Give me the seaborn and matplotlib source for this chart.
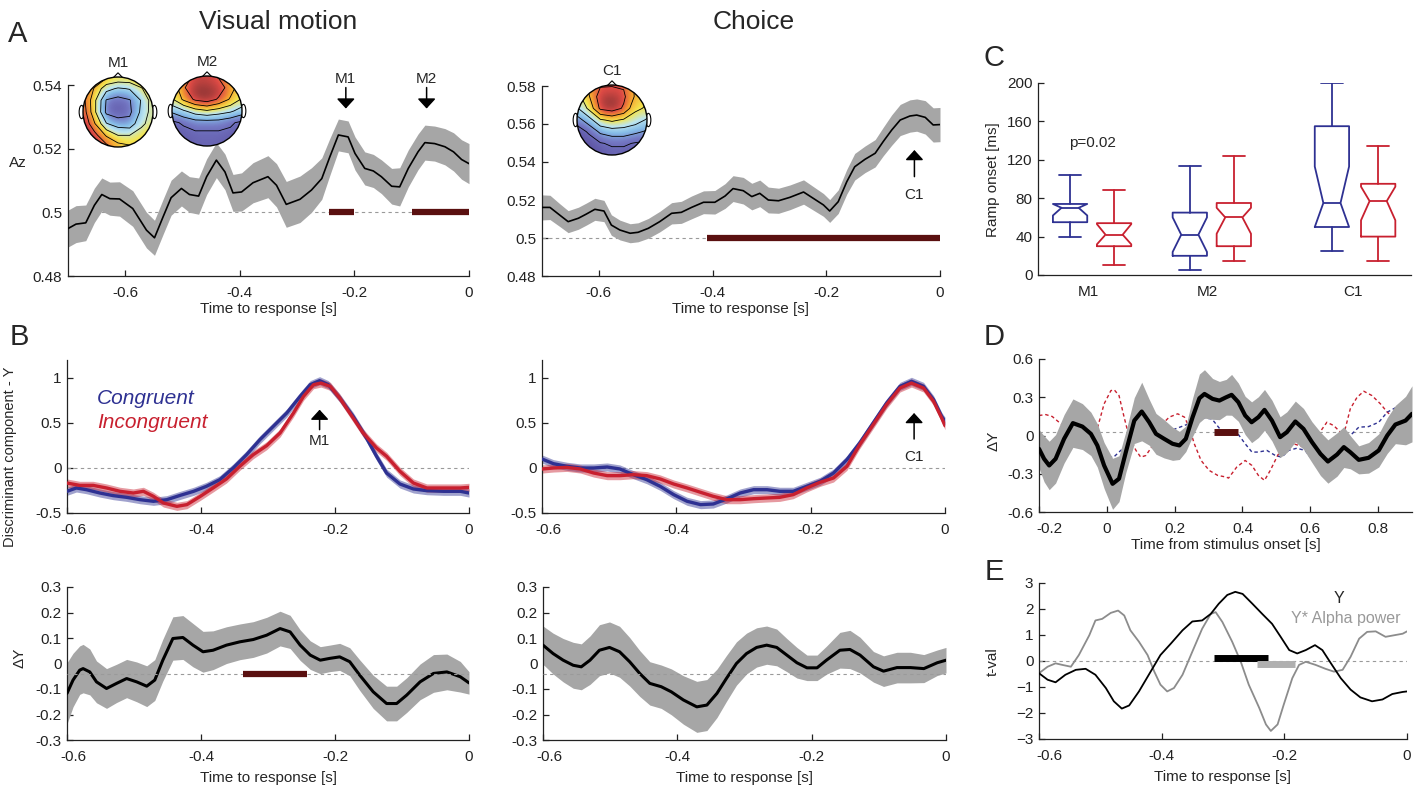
import numpy as np
import matplotlib
matplotlib.use("Agg")
import matplotlib.pyplot as plt
import seaborn as sns
from matplotlib.patches import Circle, Polygon, Ellipse
from matplotlib.colors import LinearSegmentedColormap
from matplotlib.ticker import FuncFormatter
from matplotlib.transforms import ScaledTranslation

# A - Az time courses (time to response [s])
mot_t = [-0.7, -0.686, -0.669, -0.654, -0.641, -0.627, -0.61, -0.587, -0.563, -0.549, -0.534, -0.52, -0.502,
         -0.488, -0.472, -0.458, -0.441, -0.426, -0.412, -0.397, -0.377, -0.351, -0.336, -0.319, -0.295, -0.275,
         -0.257, -0.243, -0.228, -0.211, -0.199, -0.182, -0.167, -0.153, -0.135, -0.121, -0.106, -0.089, -0.077,
         -0.06, -0.042, -0.027, -0.013, 0]
mot_az = [0.4949, 0.4963, 0.4967, 0.5022, 0.5056, 0.5043, 0.5042, 0.5012, 0.4944, 0.492, 0.4986, 0.5046, 0.5075,
          0.5056, 0.5051, 0.5112, 0.5164, 0.5127, 0.5061, 0.5064, 0.5093, 0.5112, 0.5085, 0.5025, 0.5041, 0.507,
          0.5106, 0.5174, 0.5243, 0.5237, 0.5185, 0.5138, 0.513, 0.5112, 0.5082, 0.508, 0.5138, 0.519, 0.5219,
          0.5216, 0.5206, 0.519, 0.5166, 0.5153]
mot_hw = [0.0058, 0.0058, 0.0056, 0.0054, 0.0052, 0.0052, 0.0054, 0.0056, 0.0056, 0.0055, 0.0055, 0.0055, 0.0055,
          0.0056, 0.0057, 0.0056, 0.0055, 0.0056, 0.0058, 0.006, 0.0063, 0.0066, 0.0068, 0.0072, 0.0073, 0.007,
          0.0065, 0.0058, 0.005, 0.005, 0.0052, 0.0052, 0.0052, 0.0053, 0.0056, 0.006, 0.0058, 0.0056, 0.0055,
          0.0055, 0.0057, 0.006, 0.0062, 0.0063]
mot_sig = [(-0.245, -0.2), (-0.1, 0.0)]
mot_peaks = [("M1", -0.215), ("M2", -0.074)]

cho_t = [-0.7, -0.686, -0.669, -0.654, -0.636, -0.622, -0.607, -0.591, -0.578, -0.563, -0.545, -0.531, -0.513,
         -0.493, -0.472, -0.455, -0.437, -0.416, -0.396, -0.378, -0.364, -0.346, -0.331, -0.317, -0.302, -0.284,
         -0.264, -0.24, -0.223, -0.205, -0.194, -0.179, -0.164, -0.15, -0.132, -0.114, -0.1, -0.085, -0.07,
         -0.053, -0.041, -0.026, -0.012, 0]
cho_az = [0.5161, 0.5161, 0.5121, 0.5086, 0.5104, 0.5126, 0.5151, 0.5142, 0.5068, 0.5042, 0.5025, 0.503, 0.5051,
          0.5086, 0.513, 0.5135, 0.5161, 0.5188, 0.5188, 0.5221, 0.526, 0.5249, 0.5218, 0.5235, 0.52, 0.5196,
          0.5214, 0.5242, 0.5209, 0.5174, 0.5142, 0.5191, 0.5296, 0.5375, 0.5414, 0.5446, 0.5507, 0.5568, 0.5621,
          0.5642, 0.5647, 0.5635, 0.5595, 0.5597]
cho_hw = [0.0066, 0.0064, 0.006, 0.0058, 0.0058, 0.0058, 0.0058, 0.0056, 0.0054, 0.0052, 0.005, 0.005, 0.0052,
          0.0054, 0.0056, 0.0058, 0.006, 0.006, 0.0062, 0.0065, 0.0068, 0.007, 0.007, 0.007, 0.0068, 0.0066,
          0.0065, 0.0064, 0.0062, 0.006, 0.006, 0.0062, 0.0065, 0.007, 0.007, 0.0072, 0.0075, 0.008, 0.0082,
          0.0085, 0.0085, 0.0088, 0.009, 0.009]
cho_sig = [(-0.41, 0.0)]
cho_peak = ("C1", -0.045)

# scalp maps, rows front -> back, 0 = low (blue), 1 = high (red)
topo_m1 = [[.80, .72, .60, .55, .55, .62, .72],
           [.78, .55, .32, .25, .28, .40, .60],
           [.78, .45, .12, .08, .12, .28, .50],
           [.82, .45, .10, .06, .10, .30, .50],
           [.88, .58, .28, .20, .18, .38, .50],
           [.95, .78, .55, .42, .42, .50, .60],
           [.97, .90, .78, .65, .60, .60, .65]]
topo_m2 = [[.60, .80, .90, .90, .85, .75, .60],
           [.60, .85, 1.0, 1.0, .95, .80, .60],
           [.55, .75, .90, .95, .85, .70, .55],
           [.30, .40, .50, .55, .50, .45, .35],
           [.10, .15, .20, .20, .20, .15, .10],
           [.05, .08, .10, .10, .10, .10, .05],
           [.05, .05, .08, .08, .08, .05, .05]]
topo_c1 = [[.60, .75, .85, .85, .85, .70, .60],
           [.50, .70, .95, 1.0, .90, .70, .60],
           [.40, .60, .90, .95, .85, .60, .55],
           [.20, .35, .55, .60, .55, .50, .40],
           [.05, .15, .30, .35, .35, .30, .25],
           [.02, .05, .12, .15, .15, .12, .10],
           [.00, .02, .05, .08, .08, .05, .05]]

# B - discriminant component Y
bm_t_con = [-0.6, -0.586, -0.571, -0.551, -0.531, -0.511, -0.491, -0.471, -0.451, -0.431, -0.411, -0.392, -0.372,
            -0.352, -0.332, -0.312, -0.292, -0.272, -0.252, -0.237, -0.223, -0.21, -0.193, -0.173, -0.153, -0.138,
            -0.123, -0.103, -0.083, -0.063, -0.038, -0.013, 0]
bm_y_con = [-0.259, -0.222, -0.241, -0.278, -0.307, -0.326, -0.352, -0.37, -0.352, -0.304, -0.259, -0.204, -0.13,
            0.0, 0.148, 0.315, 0.463, 0.611, 0.796, 0.926, 0.97, 0.926, 0.778, 0.574, 0.333, 0.13, -0.056, -0.178,
            -0.233, -0.252, -0.259, -0.259, -0.278]
bm_t_inc = [-0.6, -0.581, -0.561, -0.541, -0.521, -0.501, -0.486, -0.471, -0.456, -0.436, -0.421, -0.401, -0.382,
            -0.362, -0.342, -0.322, -0.302, -0.282, -0.262, -0.247, -0.232, -0.221, -0.207, -0.193, -0.173, -0.158,
            -0.138, -0.123, -0.103, -0.083, -0.063, -0.038, -0.013, 0]
bm_y_inc = [-0.167, -0.193, -0.193, -0.222, -0.259, -0.278, -0.259, -0.315, -0.389, -0.426, -0.407, -0.315, -0.222,
            -0.122, 0.019, 0.148, 0.248, 0.389, 0.611, 0.796, 0.926, 0.944, 0.907, 0.778, 0.556, 0.389, 0.222, 0.13,
            -0.037, -0.167, -0.222, -0.222, -0.222, -0.215]
bc_t = [-0.6, -0.583, -0.563, -0.543, -0.523, -0.503, -0.484, -0.464, -0.444, -0.424, -0.404, -0.384, -0.364,
        -0.345, -0.325, -0.305, -0.285, -0.265, -0.246, -0.226, -0.206, -0.186, -0.166, -0.146, -0.127, -0.107,
        -0.087, -0.067, -0.05, -0.032, -0.017, -0.005, 0]
bc_y_con = [0.1, 0.048, 0.019, 0.0, 0.0, 0.011, -0.011, -0.074, -0.13, -0.204, -0.296, -0.37, -0.407, -0.4, -0.344,
            -0.278, -0.241, -0.241, -0.259, -0.259, -0.204, -0.148, -0.056, 0.093, 0.278, 0.5, 0.722, 0.907, 0.963,
            0.907, 0.759, 0.574, 0.519]
bc_y_inc = [-0.011, 0.0, 0.007, -0.011, -0.056, -0.085, -0.085, -0.074, -0.085, -0.122, -0.178, -0.222, -0.27,
            -0.315, -0.352, -0.352, -0.341, -0.333, -0.326, -0.296, -0.222, -0.159, -0.111, 0.019, 0.259, 0.481,
            0.704, 0.889, 0.944, 0.889, 0.741, 0.556, 0.47]
b_band = 0.045

# B - difference Delta Y
dm_t = [-0.6, -0.591, -0.581, -0.576, -0.566, -0.556, -0.541, -0.526, -0.511, -0.496, -0.481, -0.469, -0.457,
        -0.442, -0.427, -0.412, -0.397, -0.382, -0.362, -0.342, -0.322, -0.302, -0.282, -0.267, -0.252, -0.237,
        -0.222, -0.208, -0.193, -0.178, -0.163, -0.143, -0.123, -0.108, -0.093, -0.073, -0.053, -0.033, -0.013, 0]
dm_y = [-0.117, -0.065, -0.026, -0.02, -0.033, -0.072, -0.098, -0.078, -0.059, -0.072, -0.089, -0.065, 0.013, 0.098,
        0.102, 0.072, 0.046, 0.052, 0.072, 0.085, 0.094, 0.111, 0.137, 0.124, 0.072, 0.033, 0.013, 0.02, 0.026,
        0.007, -0.046, -0.111, -0.157, -0.157, -0.124, -0.072, -0.039, -0.033, -0.052, -0.076]
dm_hw = [0.12, 0.105, 0.095, 0.095, 0.09, 0.082, 0.078, 0.075, 0.075, 0.078, 0.08, 0.08, 0.082, 0.085, 0.086, 0.085,
         0.08, 0.076, 0.072, 0.07, 0.07, 0.07, 0.068, 0.065, 0.06, 0.056, 0.053, 0.052, 0.053, 0.055, 0.06, 0.065,
         0.068, 0.068, 0.068, 0.07, 0.074, 0.07, 0.06, 0.044]
dm_sig = [(-0.337, -0.242)]
dc_t = [-0.6, -0.585, -0.57, -0.555, -0.543, -0.53, -0.516, -0.501, -0.486, -0.471, -0.456, -0.441, -0.424, -0.409,
        -0.391, -0.371, -0.356, -0.341, -0.327, -0.312, -0.297, -0.282, -0.267, -0.252, -0.237, -0.222, -0.207,
        -0.192, -0.178, -0.158, -0.143, -0.128, -0.108, -0.093, -0.073, -0.053, -0.033, -0.013, 0]
dc_y = [0.072, 0.039, 0.013, -0.007, -0.013, 0.013, 0.052, 0.063, 0.046, 0.007, -0.039, -0.078, -0.091, -0.111,
        -0.143, -0.17, -0.163, -0.117, -0.059, 0.0, 0.039, 0.063, 0.072, 0.063, 0.033, 0.003, -0.017, -0.017, 0.013,
        0.052, 0.055, 0.033, -0.013, -0.03, -0.016, -0.016, -0.02, 0.003, 0.013]
dc_hw = [0.075, 0.08, 0.085, 0.09, 0.09, 0.095, 0.1, 0.1, 0.1, 0.095, 0.09, 0.085, 0.085, 0.09, 0.095, 0.1, 0.1,
         0.095, 0.09, 0.085, 0.08, 0.077, 0.075, 0.072, 0.065, 0.06, 0.05, 0.05, 0.055, 0.07, 0.075, 0.07, 0.06,
         0.06, 0.06, 0.06, 0.055, 0.05, 0.05]
d_ref = -0.04

# C - ramp onset boxplots (ms)
box_pos = [0.86, 2.04, 4.07, 5.25, 7.88, 9.12]
box_whislo = [40, 10, 5, 15, 25, 15]
box_q1 = [55, 30, 20, 30, 50, 40]
box_med = [70, 42, 42, 60, 75, 77]
box_q3 = [74, 54, 65, 75, 155, 95]
box_whishi = [104, 89, 114, 124, 200, 134]
box_cilo = [62, 32, 24, 43, 50, 57]
box_cihi = [74, 53, 60, 70, 113, 92]
box_cond = ["con", "inc", "con", "inc", "con", "inc"]
cat_labels = ["M1", "M2", "C1"]
cat_pos = [1.35, 4.55, 8.45]

# D - Delta Y from stimulus onset
st_t = [-0.2, -0.185, -0.17, -0.151, -0.126, -0.1, -0.072, -0.047, -0.028, -0.008, 0.017, 0.036, 0.056, 0.081,
        0.103, 0.125, 0.145, 0.169, 0.194, 0.214, 0.233, 0.253, 0.273, 0.288, 0.312, 0.332, 0.352, 0.368, 0.388,
        0.408, 0.427, 0.447, 0.465, 0.487, 0.511, 0.531, 0.556, 0.58, 0.605, 0.63, 0.652, 0.679, 0.699, 0.718,
        0.743, 0.772, 0.802, 0.827, 0.851, 0.881, 0.9]
st_dy = [-0.104, -0.183, -0.235, -0.183, -0.026, 0.097, 0.07, 0.013, -0.078, -0.235, -0.379, -0.339, -0.131, 0.117,
         0.188, 0.104, 0.013, -0.026, -0.065, -0.078, -0.026, 0.144, 0.292, 0.326, 0.287, 0.274, 0.3, 0.319, 0.261,
         0.157, 0.104, 0.144, 0.201, 0.117, -0.013, 0.026, 0.11, 0.052, -0.052, -0.144, -0.204, -0.149, -0.091,
         -0.131, -0.191, -0.175, -0.117, 0.0, 0.086, 0.117, 0.17]
st_hw = [0.15, 0.18, 0.19, 0.19, 0.19, 0.19, 0.18, 0.17, 0.17, 0.18, 0.2, 0.18, 0.16, 0.18, 0.23, 0.18, 0.16, 0.15,
         0.13, 0.11, 0.1, 0.15, 0.19, 0.19, 0.16, 0.15, 0.14, 0.16, 0.15, 0.15, 0.16, 0.16, 0.16, 0.16, 0.16, 0.16,
         0.16, 0.16, 0.16, 0.17, 0.17, 0.17, 0.16, 0.13, 0.11, 0.12, 0.13, 0.14, 0.15, 0.19, 0.22]
st_inc_t = [-0.2, -0.18, -0.161, -0.141, -0.12, -0.09, -0.06, -0.045, -0.031, -0.008, 0.012, 0.022, 0.036, 0.051,
            0.066, 0.086, 0.1, 0.115, 0.135, 0.15, 0.169, 0.184, 0.209, 0.229, 0.243, 0.258, 0.278, 0.302, 0.327,
            0.352, 0.359, 0.383, 0.408, 0.428, 0.447, 0.465, 0.482, 0.505, 0.536, 0.566, 0.595, 0.625, 0.649, 0.669,
            0.689, 0.703, 0.718, 0.738, 0.758, 0.782, 0.807, 0.827, 0.85, 0.87, 0.891, 0.905]
st_inc = [0.157, 0.164, 0.149, 0.104, 0.06, 0.02, 0.0, 0.0, 0.026, 0.248, 0.352, 0.358, 0.313, 0.144, -0.013,
          -0.117, -0.17, -0.157, -0.08, 0.02, 0.104, 0.144, 0.17, 0.144, 0.065, -0.065, -0.196, -0.274, -0.313,
          -0.326, -0.334, -0.248, -0.196, -0.235, -0.313, -0.352, -0.274, -0.15, -0.052, -0.078, -0.104, 0.013,
          0.104, 0.078, 0.026, 0.052, 0.209, 0.3, 0.347, 0.313, 0.248, 0.183, 0.13, 0.095, 0.078, 0.06]
st_con_t = [-0.2, -0.15, -0.1, -0.06, -0.04, -0.02, 0.0, 0.02, 0.04, 0.07, 0.1, 0.15, 0.2, 0.25, 0.28, 0.31, 0.34,
            0.36, 0.383, 0.408, 0.428, 0.447, 0.472, 0.497, 0.516, 0.536, 0.56, 0.585, 0.6, 0.63, 0.66, 0.69, 0.713,
            0.743, 0.772, 0.802, 0.827, 0.851, 0.876, 0.905]
st_con = [-0.05, -0.06, -0.03, -0.08, -0.1, -0.12, -0.17, -0.17, -0.12, -0.05, 0.02, 0.0, 0.05, 0.1, 0.14, 0.13,
          0.03, 0.04, 0.026, -0.065, -0.13, -0.13, -0.117, -0.157, -0.17, -0.117, -0.1, -0.117, -0.17, -0.15, -0.1,
          -0.05, -0.013, 0.065, 0.07, 0.104, 0.183, 0.217, 0.209, 0.196]
st_sig = [(0.316, 0.386)]
st_ref = 0.026

# E - t-values
e_t_y = [-0.6, -0.586, -0.573, -0.557, -0.54, -0.524, -0.508, -0.491, -0.478, -0.465, -0.453, -0.437, -0.418, -0.402,
         -0.385, -0.366, -0.35, -0.334, -0.32, -0.307, -0.293, -0.28, -0.268, -0.252, -0.236, -0.22, -0.206, -0.192,
         -0.179, -0.165, -0.15, -0.138, -0.124, -0.108, -0.092, -0.076, -0.057, -0.04, -0.024, -0.007, 0]
e_y = [-0.47, -0.72, -0.82, -0.53, -0.34, -0.3, -0.53, -1.04, -1.55, -1.83, -1.71, -1.17, -0.41, 0.23, 0.67, 1.18,
       1.52, 1.56, 1.81, 2.2, 2.54, 2.66, 2.58, 2.2, 1.81, 1.43, 0.93, 0.42, 0.29, 0.42, 0.61, 0.42, -0.09, -0.66,
       -1.1, -1.4, -1.55, -1.48, -1.27, -1.19, -1.17]
e_t_a = [-0.6, -0.586, -0.573, -0.562, -0.548, -0.535, -0.518, -0.508, -0.497, -0.483, -0.471, -0.461, -0.451,
         -0.437, -0.423, -0.412, -0.402, -0.391, -0.38, -0.366, -0.35, -0.334, -0.32, -0.312, -0.301, -0.285, -0.271,
         -0.258, -0.241, -0.23, -0.222, -0.211, -0.201, -0.187, -0.176, -0.165, -0.149, -0.133, -0.119, -0.105,
         -0.092, -0.078, -0.065, -0.051, -0.035, -0.021, -0.007, 0]
e_alpha = [-0.47, -0.22, -0.09, -0.15, -0.22, 0.23, 0.99, 1.56, 1.62, 1.85, 1.94, 1.75, 1.18, 0.74, 0.23, -0.41,
           -0.91, -1.17, -1.04, -0.53, 0.36, 1.24, 1.81, 1.88, 1.5, 0.74, -0.03, -0.91, -1.8, -2.44, -2.69, -2.44,
           -1.68, -0.66, -0.15, -0.03, -0.15, -0.3, -0.41, -0.34, 0.16, 0.86, 1.12, 1.14, 0.93, 0.99, 1.05, 1.14]
e_sig_y = (-0.315, -0.227, 0.1)
e_sig_a = (-0.244, -0.183, -0.13)

C_CON = "#2e3192"
C_INC = "#c8202f"
C_SIG = "#5a1010"
C_BAND = "#a6a6a6"
C_REF = "#9a9a9a"
FS = 11

sns.set_style("ticks")
plt.rcParams["font.family"] = ["Liberation Sans", "DejaVu Sans"]
plt.rcParams["axes.unicode_minus"] = False

W, H = 1422, 787
fig = plt.figure(figsize=(W / 100, H / 100), dpi=100)


def px_axes(l, t, r, b):
    return fig.add_axes([l / W, 1 - b / H, (r - l) / W, (b - t) / H])


def g_fmt(v, p):
    return f"{round(v, 6) + 0.0:g}"


def matlab_axes(ax):
    sns.despine(ax=ax)
    for s in ["left", "bottom"]:
        ax.spines[s].set_linewidth(0.9)
        ax.spines[s].set_color("#222222")
    ax.tick_params(direction="in", length=4, width=0.9, labelsize=FS, colors="#222222", pad=4)
    ax.tick_params(axis="x", pad=7)
    ax.xaxis.set_major_formatter(FuncFormatter(g_fmt))
    ax.yaxis.set_major_formatter(FuncFormatter(g_fmt))


def arrow(ax, x, y_tail, y_tip):
    ax.annotate("", xy=(x, y_tip), xytext=(x, y_tail),
                arrowprops=dict(arrowstyle="-|>,head_length=0.6,head_width=0.55", color="k", lw=1.1,
                                shrinkA=0, shrinkB=0, mutation_scale=10), annotation_clip=False)


def gray_trace(ax, t, y, hw, lw):
    t = np.array(t); y = np.array(y); hw = np.array(hw)
    ax.fill_between(t, y - hw, y + hw, color=C_BAND, lw=0, zorder=2)
    sns.lineplot(x=t, y=y, ax=ax, color="k", linewidth=lw, errorbar=None, sort=False, zorder=3)


# ---------- A ----------
axA1 = px_axes(68, 85, 469, 276)
axA1.axhline(0.5, color=C_REF, lw=0.8, ls=(0, (3, 3)), zorder=1)
gray_trace(axA1, mot_t, mot_az, mot_hw, 1.2)
for x0, x1 in mot_sig:
    axA1.hlines(0.5, x0, x1, color=C_SIG, lw=4.5, zorder=4)
for name, x in mot_peaks:
    arrow(axA1, x, 0.5392, 0.5326)
    axA1.text(x, 0.5419, name, ha="center", va="center", fontsize=FS)
axA1.set_xlim(-0.7, 0)
axA1.set_ylim(0.48, 0.54)
axA1.set_xticks([-0.6, -0.4, -0.2, 0])
axA1.set_yticks([0.48, 0.5, 0.52, 0.54])
matlab_axes(axA1)
axA1.set_xlabel("Time to response [s]", fontsize=FS, labelpad=2)
axA1.set_ylabel("")

axA2 = px_axes(542, 86, 940, 276)
axA2.axhline(0.5, color=C_REF, lw=0.8, ls=(0, (3, 3)), zorder=1)
gray_trace(axA2, cho_t, cho_az, cho_hw, 1.2)
for x0, x1 in cho_sig:
    axA2.hlines(0.5, x0, x1, color=C_SIG, lw=4.5, zorder=4)
arrow(axA2, cho_peak[1], 0.5323, 0.5463)
axA2.text(cho_peak[1], 0.5226, cho_peak[0], ha="center", va="center", fontsize=FS)
axA2.set_xlim(-0.7, 0)
axA2.set_ylim(0.48, 0.58)
axA2.set_xticks([-0.6, -0.4, -0.2, 0])
axA2.set_yticks([0.48, 0.5, 0.52, 0.54, 0.56, 0.58])
matlab_axes(axA2)
axA2.set_xlabel("Time to response [s]", fontsize=FS, labelpad=2)
axA2.set_ylabel("")

# ---------- B (top) ----------
def cond_panel(ax, t_con, y_con, t_inc, y_inc):
    ax.axhline(0, color=C_REF, lw=0.8, ls=(0, (3, 3)), zorder=1)
    for t, y, c in [(t_con, y_con, C_CON), (t_inc, y_inc, C_INC)]:
        t = np.array(t); y = np.array(y)
        ax.fill_between(t, y - b_band, y + b_band, color=c, alpha=0.45, lw=0, zorder=2)
    for t, y, c in [(t_con, y_con, C_CON), (t_inc, y_inc, C_INC)]:
        sns.lineplot(x=t, y=y, ax=ax, color=c, linewidth=2.4, errorbar=None, sort=False, zorder=3)
    ax.set_xlim(-0.6, 0)
    ax.set_ylim(-0.5, 1.2)
    ax.set_xticks([-0.6, -0.4, -0.2, 0])
    ax.set_yticks([-0.5, 0, 0.5, 1])
    matlab_axes(ax)
    ax.set_xlabel("")
    ax.set_ylabel("")


axB1 = px_axes(67, 360, 469, 513)
cond_panel(axB1, bm_t_con, bm_y_con, bm_t_inc, bm_y_inc)
arrow(axB1, -0.223, 0.426, 0.648)
axB1.text(-0.223, 0.296, "M1", ha="center", va="center", fontsize=FS)
axB1.text(-0.555, 0.77, "Congruent", color=C_CON, fontsize=15, style="italic", va="center")
axB1.text(-0.555, 0.5, "Incongruent", color=C_INC, fontsize=15, style="italic", va="center")

axB2 = px_axes(542, 360, 945, 513)
cond_panel(axB2, bc_t, bc_y_con, bc_t, bc_y_inc)
arrow(axB2, -0.046, 0.322, 0.611)
axB2.text(-0.046, 0.122, "C1", ha="center", va="center", fontsize=FS)

# ---------- B (bottom) ----------
def diff_panel(ax, t, y, hw, sig):
    gray_trace(ax, t, y, hw, 2.2)
    ax.axhline(d_ref, color=C_REF, lw=0.8, ls=(0, (3, 3)), zorder=3.5)
    for x0, x1 in sig:
        ax.hlines(d_ref, x0, x1, color=C_SIG, lw=4.5, zorder=4)
    ax.set_xlim(-0.6, 0)
    ax.set_ylim(-0.3, 0.3)
    ax.set_xticks([-0.6, -0.4, -0.2, 0])
    ax.set_yticks([-0.3, -0.2, -0.1, 0, 0.1, 0.2, 0.3])
    matlab_axes(ax)
    ax.set_xlabel("Time to response [s]", fontsize=FS, labelpad=5)
    ax.set_ylabel("")


axB3 = px_axes(67, 587, 469, 740)
diff_panel(axB3, dm_t, dm_y, dm_hw, dm_sig)
axB4 = px_axes(543, 587, 946, 740)
diff_panel(axB4, dc_t, dc_y, dc_hw, [])

# ---------- C ----------
axC = px_axes(1038, 83, 1411, 275)
for i in range(len(box_pos)):
    c = C_CON if box_cond[i] == "con" else C_INC
    st = dict(med=box_med[i], q1=box_q1[i], q3=box_q3[i], whislo=box_whislo[i], whishi=box_whishi[i],
              cilo=box_cilo[i], cihi=box_cihi[i], fliers=[])
    props = dict(color=c, linewidth=1.3)
    axC.bxp([st], positions=[box_pos[i]], widths=0.92, shownotches=True, showfliers=False,
            boxprops=props, whiskerprops=props, capprops=props, medianprops=props,
            manage_ticks=False, capwidths=0.6)
axC.text(1.45, 137, "p=0.02", ha="center", va="center", fontsize=FS)
axC.set_xlim(0, 10)
axC.set_ylim(0, 200)
axC.set_yticks([0, 40, 80, 120, 160, 200])
matlab_axes(axC)
axC.set_xticks(cat_pos)
axC.set_xticklabels(cat_labels)
axC.tick_params(axis="x", length=0, pad=7)

# ---------- D ----------
axD = px_axes(1039, 359, 1412, 512)
axD.axhline(st_ref, color=C_REF, lw=0.8, ls=(0, (3, 3)), zorder=1)
sns.lineplot(x=st_inc_t, y=st_inc, ax=axD, color=C_INC, linewidth=1.0, linestyle=(0, (2.5, 2)),
             errorbar=None, sort=False, zorder=1.5)
sns.lineplot(x=st_con_t, y=st_con, ax=axD, color=C_CON, linewidth=1.0, linestyle=(0, (2.5, 2)),
             errorbar=None, sort=False, zorder=1.5)
gray_trace(axD, st_t, st_dy, st_hw, 3.0)
for x0, x1 in st_sig:
    axD.hlines(st_ref, x0, x1, color=C_SIG, lw=5, zorder=4)
axD.set_xlim(-0.2, 0.9)
axD.set_ylim(-0.6, 0.6)
axD.set_xticks([-0.2, 0, 0.2, 0.4, 0.6, 0.8])
axD.set_yticks([-0.6, -0.3, 0, 0.3, 0.6])
matlab_axes(axD)
axD.set_xlabel("Time from stimulus onset [s]", fontsize=FS, labelpad=2)
axD.set_ylabel("")

# ---------- E ----------
axE = px_axes(1039, 583, 1407, 739)
axE.axhline(0, color=C_REF, lw=0.8, ls=(0, (3, 3)), zorder=1)
sns.lineplot(x=e_t_a, y=e_alpha, ax=axE, color="#8c8c8c", linewidth=1.3, errorbar=None, sort=False, zorder=2)
sns.lineplot(x=e_t_y, y=e_y, ax=axE, color="k", linewidth=1.3, errorbar=None, sort=False, zorder=3)
axE.hlines(e_sig_y[2], e_sig_y[0], e_sig_y[1], color="k", lw=5, zorder=4)
axE.hlines(e_sig_a[2], e_sig_a[0], e_sig_a[1], color="#b0b0b0", lw=5, zorder=4)
axE.text(-0.111, 2.42, "Y", ha="center", va="center", fontsize=FS + 0.5)
axE.text(-0.1, 1.62, "Y* Alpha power", ha="center", va="center", fontsize=FS + 0.5, color="#999999")
axE.set_xlim(-0.6, 0)
axE.set_ylim(-3, 3)
axE.set_xticks([-0.6, -0.4, -0.2, 0])
axE.set_yticks([-3, -2, -1, 0, 1, 2, 3])
matlab_axes(axE)
axE.yaxis.set_major_formatter(FuncFormatter(lambda v, p: f"{round(v) + 0:g}".replace("-", "\u2212")))
axE.set_xlabel("Time to response [s]", fontsize=FS, labelpad=5)
axE.set_ylabel("")

# ---------- scalp maps ----------
topo_cmap = LinearSegmentedColormap.from_list(
    "topo", ["#5b4fa0", "#7478c4", "#86bde8", "#bde6ef", "#f4e54f", "#f5a030", "#dd4a45", "#8e3535"])


def topo(cx, cy, grid, label):
    s = 84
    ax = fig.add_axes([(cx - s / 2) / W, 1 - (cy + s / 2) / H, s / W, s / H])
    ax.set_xlim(-1.2, 1.2)
    ax.set_ylim(-1.2, 1.2)
    ax.set_aspect("equal")
    ax.axis("off")
    z = np.array(grid, dtype=float)
    head = Circle((0, 0), 1.0, transform=ax.transData)
    im = ax.imshow(z, extent=(-1, 1, -1, 1), origin="upper", cmap=topo_cmap, vmin=0, vmax=1,
                   interpolation="bicubic", zorder=1)
    im.set_clip_path(head)
    g = np.linspace(-1, 1, z.shape[0])
    cs = ax.contour(g, g, z[::-1], levels=[0.13, 0.27, 0.42, 0.57, 0.72, 0.87], colors="k", linewidths=0.6,
                    zorder=2)
    cs.set_clip_path(head)
    for sx in (-1, 1):
        ax.add_patch(Ellipse((sx * 1.04, 0), 0.14, 0.38, fc="white", ec="k", lw=0.8, zorder=0))
    ax.add_patch(Polygon([(-0.13, 0.985), (0, 1.12), (0.13, 0.985)], closed=True, fc="white", ec="k", lw=0.8,
                         zorder=0))
    ax.add_patch(Circle((0, 0), 1.0, fill=False, ec="k", lw=1.0, zorder=3))
    ax.text(0, 1.2, label, ha="center", va="bottom", fontsize=FS)


topo(118, 112, topo_m1, "M1")
topo(207, 111, topo_m2, "M2")
topo(612, 120, topo_c1, "C1")

# ---------- figure texts ----------
for txt, x, y in [("A", 18, 34), ("B", 19, 337), ("C", 994, 58), ("D", 994, 337), ("E", 994, 572)]:
    fig.text(x / W, 1 - y / H, txt, ha="center", va="center", fontsize=21)
fig.text(278 / W, 1 - 22 / H, "Visual motion", ha="center", va="center", fontsize=19)
fig.text(754 / W, 1 - 22 / H, "Choice", ha="center", va="center", fontsize=19)
fig.text(18 / W, 1 - 163 / H, "Az", ha="center", va="center", fontsize=FS)
fig.text(10 / W, 1 - 457 / H, "Discriminant component - Y", ha="center", va="center", rotation=90, fontsize=10.5)
fig.text(19 / W, 1 - 658 / H, "\u0394Y", ha="center", va="center", rotation=90, fontsize=FS)
fig.text(993 / W, 1 - 180 / H, "Ramp onset [ms]", ha="center", va="center", rotation=90, fontsize=FS)
fig.text(993 / W, 1 - 441 / H, "\u0394Y", ha="center", va="center", rotation=90, fontsize=FS)
fig.text(993 / W, 1 - 662 / H, "t-val", ha="center", va="center", rotation=90, fontsize=FS)

# edge tick labels sit a little inside the axis, as in the original
fig.canvas.draw()
for ax, dx in [(axB1, 6), (axB2, 6), (axB3, 6), (axB4, 6), (axD, 10), (axE, 10)]:
    lab = ax.get_xticklabels()[0]
    lab.set_transform(lab.get_transform() + ScaledTranslation(dx / 100, 0, fig.dpi_scale_trans))

fig.savefig("out.png", dpi=100)
